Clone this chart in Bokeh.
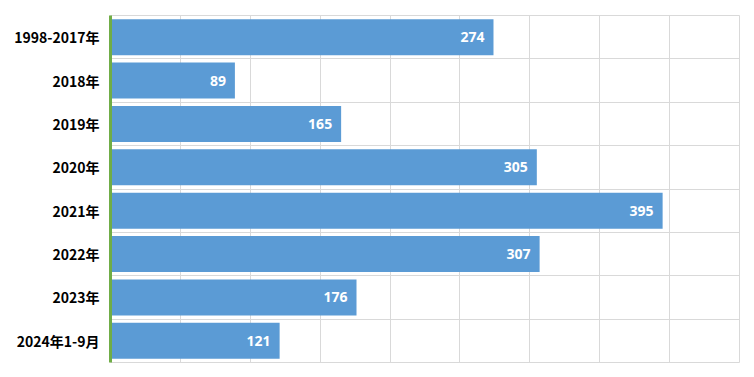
from bokeh.plotting import figure
from bokeh.models import ColumnDataSource, Range1d, FixedTicker, SingleIntervalTicker, LabelSet
from bokeh.core.properties import value
from bokeh.embed import file_html
from bokeh.resources import INLINE

categories = ["1998-2017年", "2018年", "2019年", "2020年", "2021年", "2022年", "2023年", "2024年1-9月"]
values = [274, 89, 165, 305, 395, 307, 176, 121]

pos = [i + 0.5 for i in range(len(categories))]
src = ColumnDataSource(dict(y=pos, v=values, lbl=[str(v) for v in values]))

p = figure(width=754, height=377, output_backend="svg", toolbar_location=None,
           x_range=Range1d(0, 450), y_range=Range1d(len(categories), 0),
           min_border_left=110, min_border_right=15, min_border_top=15, min_border_bottom=15)
p.hbar(y="y", right="v", left=0, height=0.83, source=src, color="#5B9BD5", line_color=None)

labels = LabelSet(x="v", y="y", text="lbl", source=src, x_offset=-9, text_align="right",
                  text_baseline="middle", text_color="white", text_font_size="14px",
                  text_font_style="bold", text_font=value("Noto Sans"))
p.add_layout(labels)

p.xaxis.visible = False
p.xgrid.ticker = SingleIntervalTicker(interval=50)
p.xgrid.grid_line_color = "#d9d9d9"
p.ygrid.ticker = FixedTicker(ticks=list(range(len(categories) + 1)))
p.ygrid.grid_line_color = "#d9d9d9"
p.outline_line_color = "#d9d9d9"

ya = p.yaxis[0]
ya.ticker = FixedTicker(ticks=pos)
ya.major_label_overrides = {pp: c for pp, c in zip(pos, categories)}
ya.axis_line_color = "#70AD47"
ya.axis_line_width = 3
ya.major_tick_line_color = None
ya.minor_tick_line_color = None
ya.major_label_standoff = 5
ya.major_label_text_font = "Noto Sans CJK SC"
ya.major_label_text_font_style = "bold"
ya.major_label_text_font_size = "14px"
ya.major_label_text_color = "black"

open("out.html", "w").write(file_html(p, INLINE))
